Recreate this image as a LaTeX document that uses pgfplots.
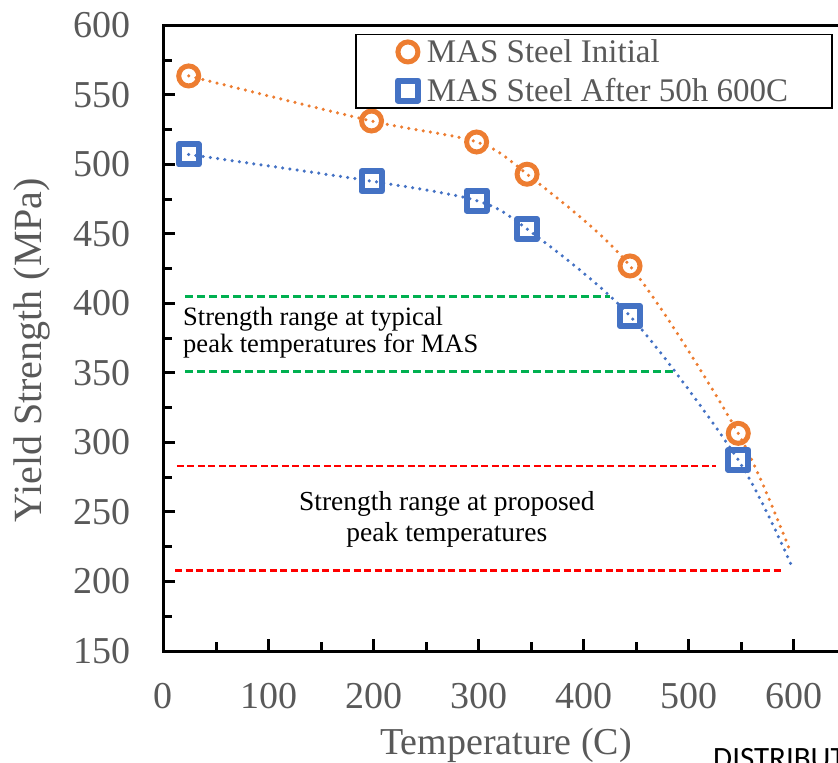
\documentclass[border=0pt]{standalone}
\usepackage{fontspec}
\setmainfont{Liberation Serif}
\newfontfamily\carlito{Carlito}
\usepackage{pgfplots}
\pgfplotsset{compat=1.18}
\definecolor{tgray}{HTML}{595959}
\definecolor{morange}{HTML}{ED7D31}
\definecolor{mblue}{HTML}{4472C4}
\definecolor{mgreen}{HTML}{00B050}
\definecolor{mred}{HTML}{FF0000}
\begin{document}
\begin{tikzpicture}[x=1pt,y=1pt]
\useasboundingbox (-163.5,-112) rectangle (674.5,651);
\clip (-163.5,-112) rectangle (674.5,651);
\begin{axis}[
  at={(0pt,0pt)}, anchor=south west,
  scale only axis, width=683pt, height=625.5pt,
  xmin=0, xmax=650, ymin=150, ymax=600,
  xtick={0,100,...,600}, ytick={150,200,...,600},
  minor x tick num=1, minor y tick num=1,
  tick pos=left, tick align=inside,
  major tick length=12pt, minor tick length=9pt,
  axis line style={line width=3pt, black},
  every tick/.style={line width=3pt, black},
  /pgf/number format/assume math mode=true,
  ticklabel style={font=\fontsize{38}{44}\selectfont, text=tgray, inner sep=0pt},
  yticklabel style={anchor=east, xshift=-33pt},
  xticklabel style={anchor=north, yshift=-32pt},
  xlabel={Temperature (C)},
  ylabel={Yield Strength (MPa)},
  x label style={at={(axis description cs:0.5016,-0.1655)}, anchor=base, font=\fontsize{38}{44}\selectfont, text=tgray},
  y label style={at={(axis description cs:-0.1779,0.481)}, anchor=base, font=\fontsize{40}{46}\selectfont, text=tgray},
  legend style={at={(axis description cs:0.980,0.9864)}, anchor=north east,
    draw=black, line width=1.5pt, fill=white, inner xsep=42pt, inner ysep=3pt,
    font=\fontsize{33}{40}\selectfont, text=tgray, row sep=10pt,
    nodes={inner sep=2pt}, column sep=7pt},
  legend cell align=left,
  legend image code/.code={\draw[#1] plot coordinates {(0pt,0pt)};},
]
% range lines
\addplot[mgreen, line width=2.5pt, dash pattern=on 8pt off 4pt, forget plot] coordinates {(20.5,405) (425,405)};
\addplot[mgreen, line width=2.5pt, dash pattern=on 8pt off 4pt, forget plot] coordinates {(20.5,351) (487,351)};
\addplot[mred, line width=2.5pt, dash pattern=on 7pt off 3.5pt, forget plot] coordinates {(12.8,283) (526,283)};
\addplot[mred, line width=2.5pt, dash pattern=on 7pt off 3.5pt, forget plot] coordinates {(11,208) (588,208)};
% smoothed dotted curves
\addplot[morange, line width=3.5pt, dash pattern=on 0pt off 7.3pt, line cap=round, smooth, forget plot] coordinates {
(24,563.7) (198,531.3) (298,516.2) (346,493) (444,427) (547,306.6) (597,220.5)};
\addplot[mblue, line width=3.5pt, dash pattern=on 0pt off 7.3pt, line cap=round, smooth, forget plot] coordinates {
(24,507.2) (198,488) (298,474) (346,453.6) (444,391) (547,287.4) (597,212.6)};
% markers
\addplot[only marks, mark=o, mark size=10pt, mark options={line width=5pt, draw=morange, fill=none, solid}] coordinates {
(24,563.7) (198,531.3) (298,516.2) (346,493) (444,427) (547,306.6)};
\addlegendentry{MAS Steel Initial}
\addplot[only marks, mark=square, mark size=10pt, mark options={line width=6pt, draw=mblue, fill=none, solid, line join=round}] coordinates {
(24,507.2) (198,488) (298,474) (346,453.6) (444,391) (547,287.4)};
\addlegendentry{MAS Steel After 50h 600C}
% annotations
\node[anchor=base west, font=\fontsize{26.5}{30}\selectfont, text=black, inner sep=0pt] at (axis cs:18.6,384.5) {Strength range at typical};
\node[anchor=base west, font=\fontsize{26.5}{30}\selectfont, text=black, inner sep=0pt] at (axis cs:18.6,364.4) {peak temperatures for MAS};
\node[anchor=base, font=\fontsize{27.5}{31}\selectfont, text=black, inner sep=0pt] at (axis cs:269.7,251.4) {Strength range at proposed};
\node[anchor=base, font=\fontsize{27.5}{31}\selectfont, text=black, inner sep=0pt] at (axis cs:269.7,229.1) {peak temperatures};
\end{axis}
\node[anchor=base west, inner sep=0pt, font=\carlito\fontsize{31}{36}\selectfont] at (549.5,-117) {DISTRIBUTION};
\end{tikzpicture}
\end{document}
